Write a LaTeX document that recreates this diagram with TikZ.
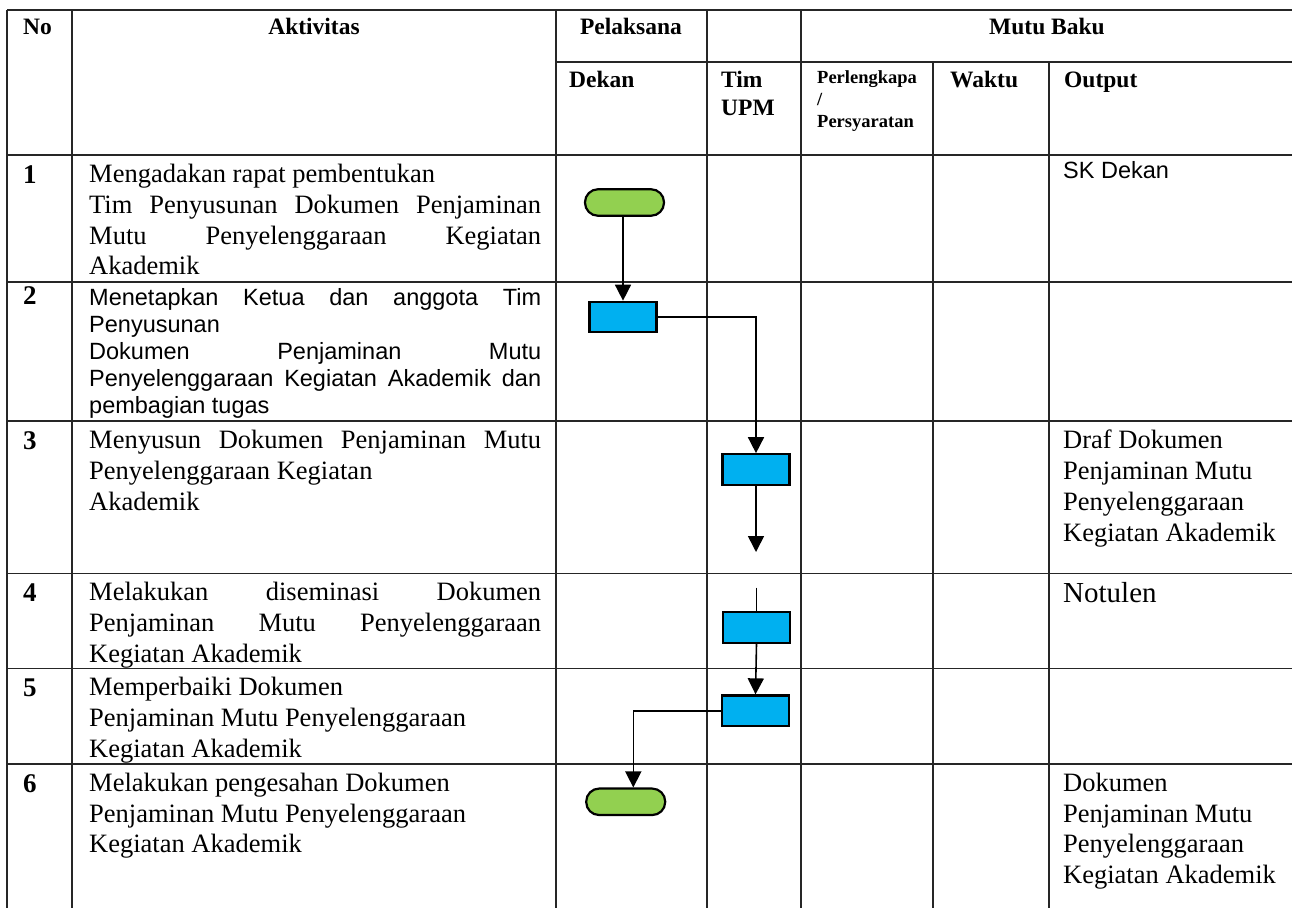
\documentclass[tikz,border=0pt]{standalone}
\usepackage{fontspec}
\setmainfont{Liberation Serif}
\newfontfamily\arialfam{Liberation Sans}
\usetikzlibrary{arrows.meta}
\newcommand{\jline}[1]{\makebox[452pt][s]{#1}}
\definecolor{termgreen}{HTML}{92D050}
\definecolor{procblue}{HTML}{00B0F0}
\tikzset{
  grid/.style={line width=1.3pt, black!85},
  txt/.style={anchor=base west, inner sep=0pt, font=\fontsize{26.5}{30}\selectfont},
  atxt/.style={anchor=base west, inner sep=0pt, font=\arialfam\fontsize{23.5}{27}\selectfont},
  hdr/.style={anchor=base, inner sep=0pt, font=\bfseries\fontsize{23.5}{27}\selectfont},
  hdrw/.style={anchor=base west, inner sep=0pt, font=\bfseries\fontsize{23.5}{27}\selectfont},
  smallhdr/.style={anchor=base west, inner sep=0pt, font=\bfseries\fontsize{18.5}{22}\selectfont},
  num/.style={anchor=base west, inner sep=0pt, font=\bfseries\fontsize{27}{30}\selectfont},
  term/.style={draw=black, line width=2.2pt, fill=termgreen, minimum width=79pt, minimum height=26.5pt, rounded corners=13pt, inner sep=0pt},
  proc/.style={draw=black, line width=2.2pt, fill=procblue, minimum width=67pt, minimum height=30.5pt, inner sep=0pt},
  conn/.style={line width=1.6pt, black},
  arr/.style={conn, -{Triangle[length=16pt,width=16pt]}}
}
\begin{document}
\begin{tikzpicture}[x=1pt,y=-1pt]
\useasboundingbox (0,0) rectangle (1292,908);
% grid
\foreach \xx in {7,72,556,707,801} \draw[grid] (\xx,10) -- (\xx,908);
\foreach \xx in {933,1049} \draw[grid] (\xx,62) -- (\xx,908);
\draw[grid] (7,10) -- (1292,10);
\draw[grid] (556,62) -- (1292,62);
\foreach \yy in {155,282,421,573.5,668.5,764} \draw[grid] (7,\yy) -- (1292,\yy);
% headers
\node[hdrw] (hNo) at (23,34) {No};
\node[hdr] (hAkt) at (314,34) {Aktivitas};
\node[hdr] (hPel) at (631,34) {Pelaksana};
\node[hdr] (hMutu) at (1047,34) {Mutu Baku};
\node[hdrw] (hDek) at (569,87) {Dekan};
\node[hdrw] (hTim) at (721,87) {Tim};
\node[hdrw] (hUPM) at (721,115) {UPM};
\node[smallhdr] (hPer1) at (817,83) {Perlengkapa};
\node[smallhdr] (hPer2) at (817,105) {/};
\node[smallhdr] (hPer3) at (817,127) {Persyaratan};
\node[hdrw] (hWak) at (950,87) {Waktu};
\node[hdrw] (hOut) at (1064,87) {Output};
% numbers
\node[num] (n1) at (23,183) {1};
\node[num] (n2) at (23,304) {2};
\node[num] (n3) at (23,449) {3};
\node[num] (n4) at (23,601) {4};
\node[num] (n5) at (23,696) {5};
\node[num] (n6) at (23,792) {6};
% row 1
\node[txt] (a1a) at (89,182) {Mengadakan rapat pembentukan};
\node[txt] (a1b) at (89,213) {\jline{Tim Penyusunan Dokumen Penjaminan}};
\node[txt] (a1c) at (89,244) {\jline{Mutu Penyelenggaraan Kegiatan}};
\node[txt] (a1d) at (89,274.5) {Akademik};
% row 2
\node[atxt] (a2a) at (89,305) {\jline{Menetapkan Ketua dan anggota Tim}};
\node[atxt] (a2b) at (89,332) {Penyusunan};
\node[atxt] (a2c) at (89,359) {\jline{Dokumen Penjaminan Mutu}};
\node[atxt] (a2d) at (89,386) {\jline{Penyelenggaraan Kegiatan Akademik dan}};
\node[atxt] (a2e) at (89,413) {pembagian tugas};
% row 3
\node[txt] (a3a) at (89,448) {\jline{Menyusun Dokumen Penjaminan Mutu}};
\node[txt] (a3b) at (89,479) {Penyelenggaraan Kegiatan};
\node[txt] (a3c) at (89,510) {Akademik};
% row 4
\node[txt] (a4a) at (89,600) {\jline{Melakukan diseminasi Dokumen}};
\node[txt] (a4b) at (89,631) {\jline{Penjaminan Mutu Penyelenggaraan}};
\node[txt] (a4c) at (89,662) {Kegiatan Akademik};
% row 5
\node[txt] (a5a) at (89,695) {Memperbaiki Dokumen};
\node[txt] (a5b) at (89,726) {Penjaminan Mutu Penyelenggaraan};
\node[txt] (a5c) at (89,757) {Kegiatan Akademik};
% row 6
\node[txt] (a6a) at (89,791) {Melakukan pengesahan Dokumen};
\node[txt] (a6b) at (89,822) {Penjaminan Mutu Penyelenggaraan};
\node[txt] (a6c) at (89,852) {Kegiatan Akademik};
% outputs
\node[atxt] (o1) at (1063,178) {SK Dekan};
\node[txt] (o3a) at (1063,448) {Draf Dokumen};
\node[txt] (o3b) at (1063,479) {Penjaminan Mutu};
\node[txt] (o3c) at (1063,510) {Penyelenggaraan};
\node[txt] (o3d) at (1063,541) {Kegiatan Akademik};
\node[txt, font=\fontsize{29}{33}\selectfont] (o4) at (1063,602) {Notulen};
\node[txt] (o6a) at (1063,791) {Dokumen};
\node[txt] (o6b) at (1063,822) {Penjaminan Mutu};
\node[txt] (o6c) at (1063,852) {Penyelenggaraan};
\node[txt] (o6d) at (1063,883) {Kegiatan Akademik};
% flow shapes
\node[term] (t1) at (624.5,202.5) {};
\node[proc] (r2) at (623,317) {};
\node[proc] (r3) at (756,469.5) {};
\node[proc] (r4) at (756.5,627.5) {};
\node[proc] (r5) at (755.5,710.7) {};
\node[term] (t6) at (625.7,801.8) {};
\coordinate (c3) at (756,552);
\coordinate (c4) at (756.5,587.7);
\coordinate (c6) at (633.3,801.8);
% connectors
\draw[arr] (t1.south -| r2.north) -- (r2.north);
\draw[arr] (r2.east) -| (r3.north);
\draw[arr] (r3.south) -- (c3);
\draw[conn] (c4) -- (r4.north);
\draw[arr] (r4.south) -- (r5.north);
\draw[arr] (r5.west) -| (c6 |- t6.north);
\end{tikzpicture}
\end{document}
